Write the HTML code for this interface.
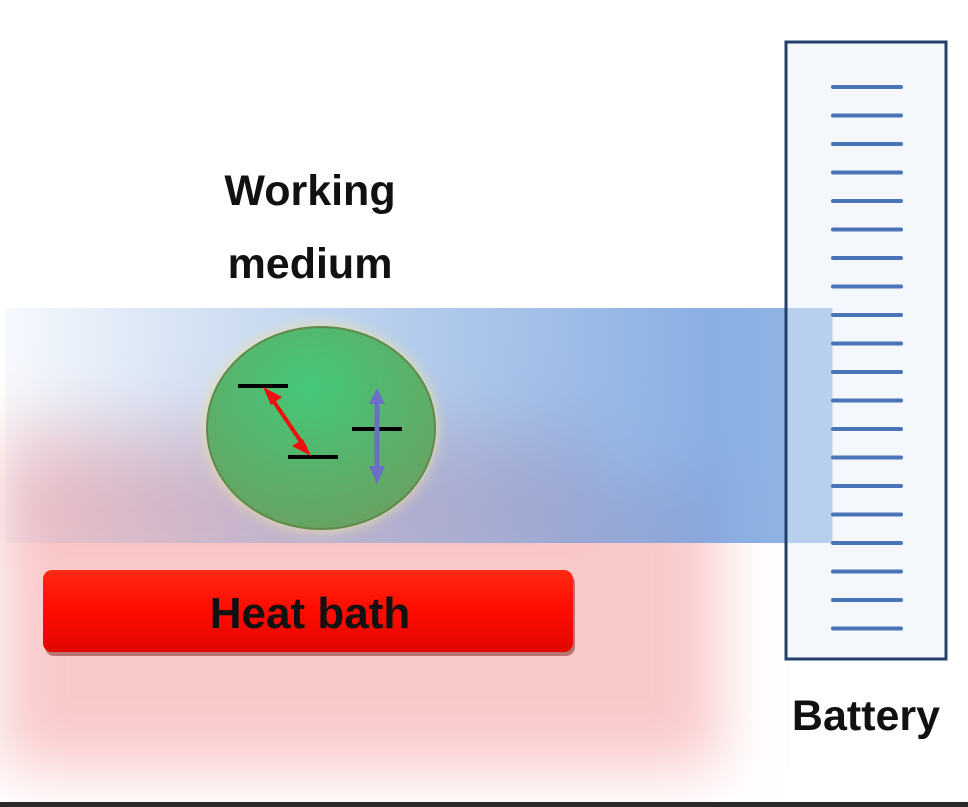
<!DOCTYPE html>
<html><head><meta charset="utf-8"><style>
html,body{margin:0;padding:0;background:#fff;width:968px;height:807px;overflow:hidden}
svg{display:block}
text{font-family:"Liberation Sans","DejaVu Sans",sans-serif;font-weight:bold;fill:#111}
</style></head><body>
<svg width="968" height="807" viewBox="0 0 968 807" xmlns="http://www.w3.org/2000/svg">
<defs>
<filter id="blur" x="-20%" y="-20%" width="140%" height="140%"><feGaussianBlur stdDeviation="30"/></filter>
<filter id="blur2"><feGaussianBlur stdDeviation="6"/></filter>
<linearGradient id="blue" x1="0" x2="1" y1="0" y2="0">
<stop offset="0" stop-color="#5b8fd6" stop-opacity="0.05"/>
<stop offset="0.3" stop-color="#6a9ad8" stop-opacity="0.35"/>
<stop offset="0.85" stop-color="#6d9bdc" stop-opacity="0.8"/>
<stop offset="0.94" stop-color="#7aa6de" stop-opacity="0.85"/>
<stop offset="1" stop-color="#9dbde6" stop-opacity="0"/>
</linearGradient>
<radialGradient id="green" cx="0.45" cy="0.3" r="0.75">
<stop offset="0" stop-color="#44c878"/>
<stop offset="1" stop-color="#6aa060"/>
</radialGradient>
<linearGradient id="hb" x1="0" x2="0" y1="0" y2="1">
<stop offset="0" stop-color="#ff2a14"/><stop offset="0.5" stop-color="#ff0a00"/><stop offset="1" stop-color="#e00800"/>
</linearGradient>
</defs>
<rect width="968" height="807" fill="#fff"/>
<g filter="url(#blur)">
<rect x="0" y="480" width="720" height="290" fill="#f6b2b4" opacity="0.7"/>
<rect x="0" y="420" width="600" height="110" fill="#f2b0b5" opacity="0.55"/>
</g>
<rect x="5" y="308" width="830" height="235" fill="url(#blue)"/>
<rect x="786" y="42" width="160" height="617" fill="#f4f7fc" stroke="#23406a" stroke-width="3"/>
<rect x="787.5" y="308" width="45" height="235" fill="#86aee0" opacity="0.55"/>
<g stroke="#4a74b8" stroke-width="4" stroke-linecap="round">
<line x1="833" y1="87" x2="901" y2="87"/><line x1="833" y1="115.5" x2="901" y2="115.5"/><line x1="833" y1="144" x2="901" y2="144"/><line x1="833" y1="172.5" x2="901" y2="172.5"/><line x1="833" y1="201" x2="901" y2="201"/><line x1="833" y1="229.5" x2="901" y2="229.5"/><line x1="833" y1="258" x2="901" y2="258"/><line x1="833" y1="286.5" x2="901" y2="286.5"/><line x1="833" y1="315" x2="901" y2="315"/><line x1="833" y1="343.5" x2="901" y2="343.5"/><line x1="833" y1="372" x2="901" y2="372"/><line x1="833" y1="400.5" x2="901" y2="400.5"/><line x1="833" y1="429" x2="901" y2="429"/><line x1="833" y1="457.5" x2="901" y2="457.5"/><line x1="833" y1="486" x2="901" y2="486"/><line x1="833" y1="514.5" x2="901" y2="514.5"/><line x1="833" y1="543" x2="901" y2="543"/><line x1="833" y1="571.5" x2="901" y2="571.5"/><line x1="833" y1="600" x2="901" y2="600"/><line x1="833" y1="628.5" x2="901" y2="628.5"/>
</g>
<ellipse cx="321" cy="428" rx="117" ry="104" fill="#e8e0a8" opacity="0.8" filter="url(#blur2)"/>
<ellipse cx="321" cy="428" rx="114" ry="101" fill="url(#green)" stroke="#5f8a4a" stroke-width="2"/>
<g stroke="#000" stroke-width="4">
<line x1="238" y1="386" x2="288" y2="386"/>
<line x1="288" y1="457" x2="338" y2="457"/>
<line x1="352" y1="429" x2="402" y2="429"/>
</g>
<line x1="270" y1="396" x2="306" y2="449" stroke="#f01010" stroke-width="4"/>
<polygon points="263,387 282,397 271,405" fill="#f01010"/>
<polygon points="311,456 292,446 303,439" fill="#f01010"/>
<line x1="377" y1="398" x2="377" y2="468" stroke="#6a6ec4" stroke-width="5"/>
<polygon points="377,388 369,404 385,404" fill="#6a6ec4"/>
<polygon points="377,484 369,466 385,466" fill="#6a6ec4"/>
<rect x="44" y="572" width="530" height="82" rx="9" fill="#7a2018" opacity="0.5" transform="translate(1,2)"/>
<rect x="43" y="570" width="530" height="82" rx="9" fill="url(#hb)"/>
<text x="310" y="628" font-size="44" text-anchor="middle">Heat bath</text>
<text x="310" y="205" font-size="43" text-anchor="middle">Working</text>
<text x="310" y="278" font-size="43" text-anchor="middle">medium</text>
<text x="866" y="730" font-size="43" text-anchor="middle">Battery</text>
<rect x="0" y="802" width="968" height="5" fill="#2a2a2a"/>
</svg>
</body></html>
